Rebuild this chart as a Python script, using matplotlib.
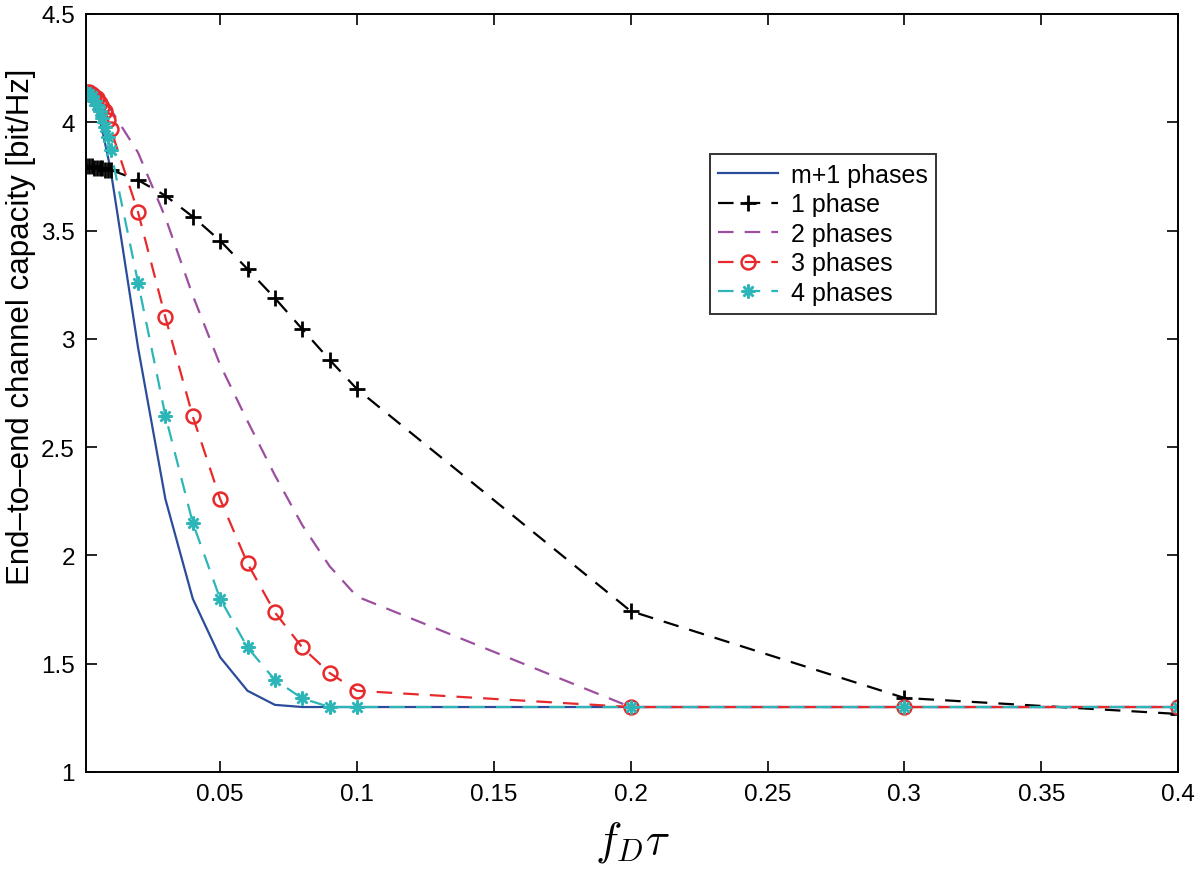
import matplotlib
matplotlib.use("Agg")
import matplotlib.pyplot as plt

plt.rcParams['font.family'] = ['Liberation Sans', 'DejaVu Sans']
plt.rcParams['mathtext.fontset'] = 'cm'

# x axis: f_D * tau
fd_tau = [0.001, 0.002, 0.003, 0.004, 0.005, 0.006, 0.007, 0.008, 0.009, 0.01,
          0.02, 0.03, 0.04, 0.05, 0.06, 0.07, 0.08, 0.09, 0.1,
          0.2, 0.3, 0.4]

# capacity [bit/Hz] for each scheme
cap_m1 = [4.14, 4.13, 4.11, 4.08, 4.05, 4.01, 3.96, 3.90, 3.84, 3.78,
          2.96, 2.26, 1.80, 1.53, 1.375, 1.31, 1.30, 1.30, 1.30,
          1.30, 1.30, 1.30]
cap_1 = [3.80, 3.80, 3.80, 3.79, 3.79, 3.79, 3.79, 3.78, 3.78, 3.78,
         3.733, 3.661, 3.564, 3.453, 3.322, 3.188, 3.045, 2.903, 2.768,
         1.743, 1.342, 1.268]
cap_2 = [4.14, 4.14, 4.14, 4.13, 4.13, 4.12, 4.11, 4.10, 4.08, 4.06,
         3.86, 3.56, 3.20, 2.88, 2.62, 2.37, 2.14, 1.95, 1.81,
         1.30, 1.30, 1.30]
cap_3 = [4.14, 4.14, 4.13, 4.12, 4.11, 4.09, 4.07, 4.05, 4.01, 3.97,
         3.585, 3.099, 2.642, 2.26, 1.963, 1.737, 1.575, 1.457, 1.375,
         1.30, 1.30, 1.30]
cap_4 = [4.14, 4.13, 4.12, 4.10, 4.08, 4.05, 4.02, 3.98, 3.93, 3.87,
         3.26, 2.645, 2.15, 1.80, 1.575, 1.425, 1.34, 1.30, 1.30,
         1.30, 1.30, 1.30]

labels = ["m+1 phases", "1 phase", "2 phases", "3 phases", "4 phases"]
xticks = [0.05, 0.1, 0.15, 0.2, 0.25, 0.3, 0.35, 0.4]
xtick_labels = ["0.05", "0.1", "0.15", "0.2", "0.25", "0.3", "0.35", "0.4"]
yticks = [1, 1.5, 2, 2.5, 3, 3.5, 4, 4.5]
ytick_labels = ["1", "1.5", "2", "2.5", "3", "3.5", "4", "4.5"]

fig = plt.figure(figsize=(12, 8.7), dpi=100)
ax = fig.add_axes([0.0717, 0.1115, 0.91, 0.8713])

lw = 1.6
dash = (7, 5)
ax.plot(fd_tau, cap_m1, '-', color='#2b4c9b', lw=lw, label=labels[0])
ax.plot(fd_tau, cap_1, '--', color='black', lw=lw, marker='+', ms=11,
        mew=2, dashes=dash, label=labels[1])
ax.plot(fd_tau, cap_2, '--', color='#9c4fa0', lw=lw, dashes=dash,
        label=labels[2])
ax.plot(fd_tau, cap_3, '--', color='#e8292b', lw=lw, marker='o', ms=10,
        mfc='none', mew=1.8, dashes=dash, label=labels[3])
ax.plot(fd_tau, cap_4, '--', color='#2cb6b8', lw=lw, marker=(8, 2, 0), ms=10,
        mew=1.8, dashes=dash, label=labels[4])

ax.set_xlim(0.001, 0.4)
ax.set_ylim(1, 4.5)
ax.set_xticks(xticks)
ax.set_xticklabels(xtick_labels)
ax.set_yticks(yticks)
ax.set_yticklabels(ytick_labels)
ax.tick_params(direction='in', length=8, width=1.2, labelsize=17.5,
               top=True, right=True, pad=8)
for s in ax.spines.values():
    s.set_linewidth(1.4)

# x label sits low in the figure, just above the bottom edge
fig.text(0.527, 0.006, r'$f_D\tau$', fontsize=32, ha='center', va='bottom')
ax.set_ylabel('End–to–end channel capacity [bit/Hz]', fontsize=22.5)
ax.yaxis.set_label_coords(-0.046, 0.589)

leg = ax.legend(loc='upper left', bbox_to_anchor=(0.571, 0.815), fontsize=18,
                frameon=True, fancybox=False, handlelength=2.4,
                labelspacing=0.22, borderpad=0.35, handletextpad=0.5,
                borderaxespad=0)
leg.get_frame().set_edgecolor('black')
leg.get_frame().set_linewidth(1.4)

plt.savefig("out.png", dpi=100)
plt.close()
